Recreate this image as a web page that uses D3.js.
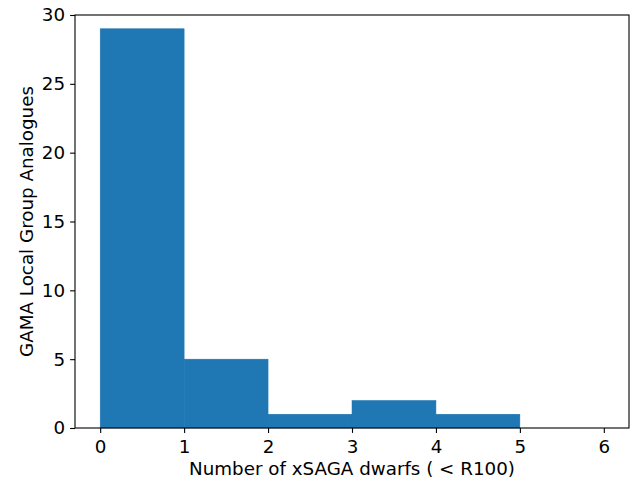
<!DOCTYPE html>
<html>
<head>
<meta charset="utf-8">
<script src="https://cdn.jsdelivr.net/npm/d3@7"></script>
<style>
  html, body { margin: 0; padding: 0; background: #fff; }
  svg { display: block; }
  text { font-family: "DejaVu Sans", sans-serif; fill: #000; }
</style>
</head>
<body>
<div id="chart"></div>
<script>
// Histogram bins (left/right edges) and counts of group analogues per bin
const binEdges = [0, 1, 2, 3, 4, 5, 6];
const counts = [29, 5, 1, 2, 1, 0];
const xTicks = [0, 1, 2, 3, 4, 5, 6];
const yTicks = [0, 5, 10, 15, 20, 25, 30];
const xLabel = "Number of xSAGA dwarfs ( < R100)";
const yLabel = "GAMA Local Group Analogues";

const W = 638, H = 481;
const plot = { left: 75, right: 629, top: 15, bottom: 428 };
const fontSize = 18.3;
const tickLen = 4.9;
const barColor = "#1f77b4";

const svg = d3.select("#chart").append("svg")
  .attr("width", W).attr("height", H);

const x = d3.scaleLinear().domain([-0.3, 6.3]).range([plot.left, plot.right]);
const y = d3.scaleLinear().domain([0, 30]).range([plot.bottom, plot.top]);

const bins = counts.map((c, i) => ({ x0: binEdges[i], x1: binEdges[i + 1], count: c }));

svg.append("g").selectAll("rect")
  .data(bins.filter(d => d.count > 0))
  .join("rect")
  .attr("x", d => x(d.x0))
  .attr("width", d => x(d.x1) - x(d.x0))
  .attr("y", d => y(d.count))
  .attr("height", d => y(0) - y(d.count))
  .attr("fill", barColor)
  .attr("stroke", barColor)
  .attr("stroke-width", 0.5);

// Axes
const xAxis = d3.axisBottom(x).tickValues(xTicks).tickFormat(d3.format("d"))
  .tickSizeInner(tickLen).tickSizeOuter(0).tickPadding(7);
const yAxis = d3.axisLeft(y).tickValues(yTicks).tickFormat(d3.format("d"))
  .tickSizeInner(tickLen).tickSizeOuter(0).tickPadding(5);

const gx = svg.append("g").attr("transform", `translate(0,${plot.bottom})`).call(xAxis);
const gy = svg.append("g").attr("transform", `translate(${plot.left},0)`).call(yAxis);

[gx, gy].forEach(g => {
  g.attr("font-size", fontSize).attr("font-family", "DejaVu Sans, sans-serif");
  g.select(".domain").remove();
  g.selectAll(".tick line").attr("stroke", "#000").attr("stroke-width", 1.1);
  g.selectAll(".tick text").attr("fill", "#000");
});

// Frame (spines)
svg.append("rect")
  .attr("x", plot.left).attr("y", plot.top)
  .attr("width", plot.right - plot.left).attr("height", plot.bottom - plot.top)
  .attr("fill", "none").attr("stroke", "#000").attr("stroke-width", 1.1);

svg.append("text")
  .attr("x", (plot.left + plot.right) / 2).attr("y", 475)
  .attr("text-anchor", "middle").attr("font-size", fontSize)
  .text(xLabel);

svg.append("text")
  .attr("transform", `translate(32.5,${(plot.top + plot.bottom) / 2}) rotate(-90)`)
  .attr("text-anchor", "middle").attr("font-size", fontSize)
  .text(yLabel);
</script>
</body>
</html>
